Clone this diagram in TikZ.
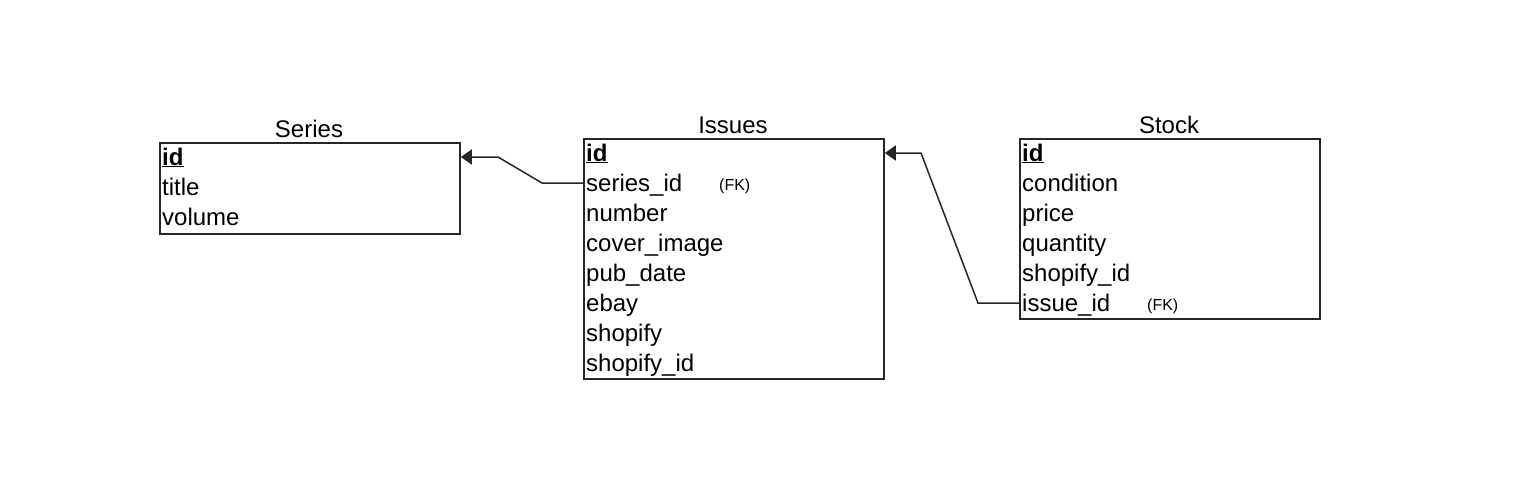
\documentclass[tikz,border=0pt]{standalone}
\usepackage{fontspec}
\setmainfont{Liberation Sans}
\usetikzlibrary{arrows.meta}
\begin{document}
\begin{tikzpicture}[x=1pt,y=-1pt,
  tbox/.style={draw=black!85,line width=1.8pt,anchor=north west,inner sep=0pt},
  ttitle/.style={font=\fontsize{24}{28}\selectfont,anchor=base,inner sep=0pt},
  row/.style={font=\fontsize{24}{28}\selectfont,anchor=base west,inner sep=0pt},
  fk/.style={font=\fontsize{16}{20}\selectfont,anchor=base west,inner sep=0pt},
  link/.style={draw=black!85,line width=1.5pt,-{Triangle[length=11pt,width=15pt]}}]
\useasboundingbox (0,0) rectangle (1536,498);
% Series
\node[tbox,minimum width=300pt,minimum height=91pt] (series) at (159,142) {};
\node[ttitle] (seriesT) at (309,137) {Series};
\node[row] (s1) at (162,165) {\textbf{\underline{id}}};
\node[row] (s2) at (162,195) {title};
\node[row] (s3) at (162,225) {volume};
% Issues
\node[tbox,minimum width=300pt,minimum height=240pt] (issues) at (583,138) {};
\node[ttitle] (issuesT) at (733,133) {Issues};
\node[row] (i1) at (586,161) {\textbf{\underline{id}}};
\node[row] (i2) at (586,191) {series\_id};
\node[fk] (i2fk) at (719,190) {(FK)};
\node[row] (i3) at (586,221) {number};
\node[row] (i4) at (586,251) {cover\_image};
\node[row] (i5) at (586,281) {pub\_date};
\node[row] (i6) at (586,311) {ebay};
\node[row] (i7) at (586,341) {shopify};
\node[row] (i8) at (586,371) {shopify\_id};
% Stock
\node[tbox,minimum width=300pt,minimum height=180pt] (stock) at (1019,138) {};
\node[ttitle] (stockT) at (1169,133) {Stock};
\node[row] (k1) at (1022,161) {\textbf{\underline{id}}};
\node[row] (k2) at (1022,191) {condition};
\node[row] (k3) at (1022,221) {price};
\node[row] (k4) at (1022,251) {quantity};
\node[row] (k5) at (1022,281) {shopify\_id};
\node[row] (k6) at (1022,311) {issue\_id};
\node[fk] (k6fk) at (1147,310) {(FK)};
% connectors
\coordinate (a1) at (542,183);
\coordinate (a2) at (498,157);
\draw[link] (issues.west |- 0,183) -- (a1) -- (a2) -- (series.east |- 0,157);
\coordinate (b1) at (978,303);
\coordinate (b2) at (921,153);
\draw[link] (stock.west |- 0,303) -- (b1) -- (b2) -- (issues.east |- 0,153);
\end{tikzpicture}
\end{document}
